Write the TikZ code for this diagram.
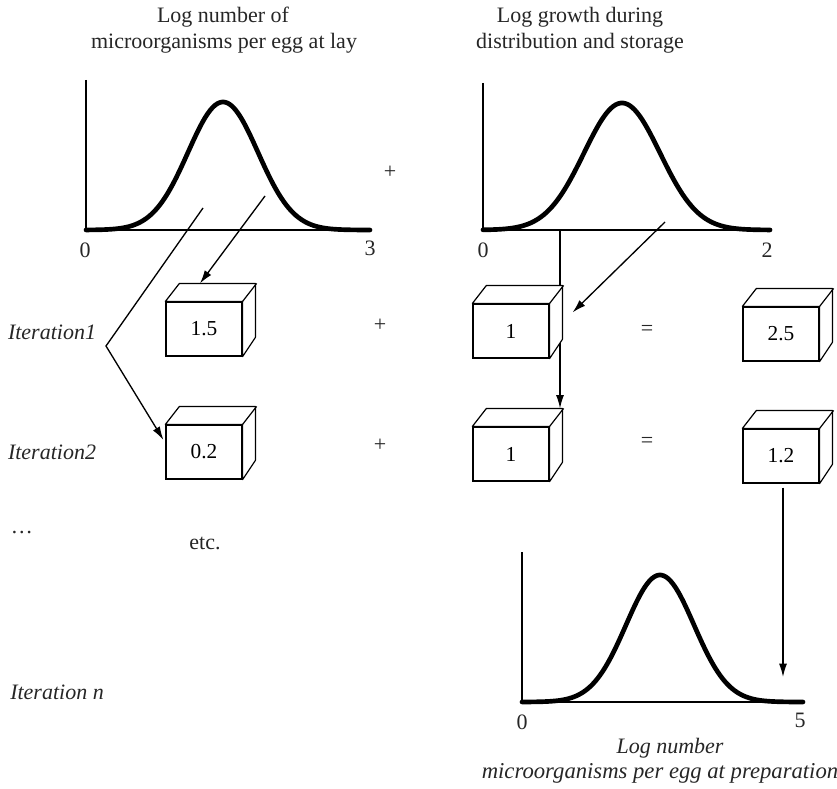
\documentclass[tikz,border=0pt]{standalone}
\usepackage{fontspec}
\setmainfont{Liberation Serif}
\usetikzlibrary{arrows.meta,backgrounds,calc}
\newcommand\cubefaces[1]{%
  \filldraw[fill=white,line width=0.9pt,line join=round] (#1.north west) -- ++(14,-18) -- ++(76,0) -- ++(0,54) -- (#1.south east) -- (#1.north east) -- cycle;
  \draw[line width=0.9pt] (#1.north east) -- ++(14,-18);}
\begin{document}
\begin{tikzpicture}[x=0.75pt,y=-0.75pt,
  lbl/.style={font=\fontsize{16.5}{19}\selectfont, inner sep=0pt, text=black!85},
  ilbl/.style={font=\fontsize{16.5}{19}\selectfont\itshape, inner sep=0pt, text=black!85},
  axis/.style={line width=1pt},
  curve/.style={line width=3.5pt, line join=round, line cap=round},
  cube/.style={draw, fill=white, line width=0.9pt, minimum width=57pt, minimum height=40.5pt, inner sep=0pt, font=\fontsize{16}{19}\selectfont},
  arr/.style={line width=1pt, -{Latex[length=10pt,width=6pt]}}]
\useasboundingbox (0,0) rectangle (837,788);

% titles
\node[lbl] (t1a) at (223,17) {Log number of};
\node[lbl] (t1b) at (224,43) {microorganisms per egg at lay};
\node[lbl] (t2a) at (580,17) {Log growth during};
\node[lbl] (t2b) at (580,43) {distribution and storage};

% chart 1
\draw[axis] (86,80) -- (86,230) -- (370,230);
\draw[curve] plot[domain=86:370, samples=120, smooth] (\x, {230 - 128*exp(-((\x-223)/35)^2/2)});
\node[lbl] (z1) at (85,250) {0};
\node[lbl] (m1) at (370,248) {3};

% chart 2
\draw[axis] (483,83) -- (483,230) -- (770,230);
\draw[curve] plot[domain=483:770, samples=120, smooth] (\x, {230 - 127*exp(-((\x-622)/38)^2/2)});
\node[lbl] (z2) at (483,250) {0};
\node[lbl] (m2) at (767,250) {2};

% chart 3
\draw[axis] (522,552) -- (522,702) -- (803,702);
\draw[curve] plot[domain=522:803, samples=120, smooth] (\x, {702 - 127*exp(-((\x-660)/34)^2/2)});
\node[lbl] (z3) at (522,722) {0};
\node[lbl] (m3) at (800,720) {5};
\node[ilbl] (c3a) at (670,748) {Log number};
\node[ilbl,font=\fontsize{17}{19}\selectfont\itshape] (c3b) at (660,773) {microorganisms per egg at preparation};

% operators
\node[lbl] (p0) at (390,172) {+};
\node[lbl] (p1) at (380,325) {+};
\node[lbl] (p2) at (380,445) {+};
\node[lbl] (e1) at (647,330) {=};
\node[lbl] (e2) at (647,442) {=};

% row labels
\node[ilbl] (it1) at (52,332) {Iteration1};
\node[ilbl] (it2) at (52,452) {Iteration2};
\node[lbl] (dots) at (22,533) {\ldots};
\node[lbl] (etc) at (205,543) {etc.};
\node[ilbl] (itn) at (57,692) {Iteration n};

% cubes
\node[cube] (b15) at (204,329) {1.5};
\node[cube] (b02) at (204,452) {0.2};
\node[cube] (b1a) at (511,331) {1};
\node[cube] (b1b) at (511,454) {1};
\node[cube] (b25) at (781,334) {2.5};
\node[cube] (b12) at (781,456) {1.2};

% vertical line from chart 2 (behind cubes)
\coordinate (v2s) at (560,231);
\begin{scope}[on background layer]
\draw[arr] (v2s) -- ($(b1b.north -| v2s)+(0,-18)$);
\end{scope}

\cubefaces{b15}
\cubefaces{b02}
\cubefaces{b1a}
\cubefaces{b1b}
\cubefaces{b25}
\cubefaces{b12}

% arrows
\coordinate (a1s) at (265,196);
\draw[arr] (a1s) -- ($(b15.north)+(-4,-18)$);
\coordinate (a2s) at (203,208);
\coordinate (a2m) at (106,346);
\draw[arr] (a2s) -- (a2m) -- ($(b02.north west)!0.28!(b02.south west)+(-2,0)$);
\coordinate (a4s) at (665,222);
\draw[arr] (a4s) -- ($(b1a.north east)+(23,9)$);
\coordinate (a5e) at (783,677);
\draw[arr] ($(b12.south)+(2,4)$) -- (a5e);
\end{tikzpicture}
\end{document}
